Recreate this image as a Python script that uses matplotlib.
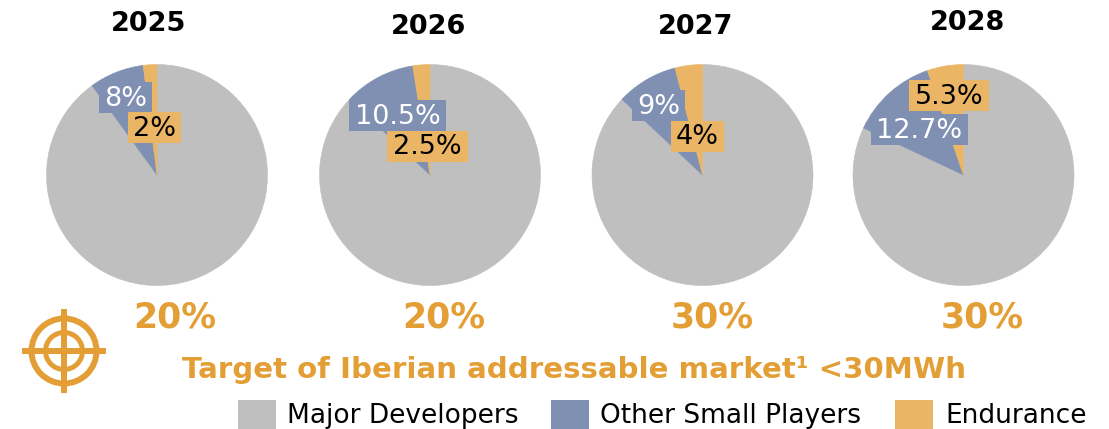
# -*- coding: utf-8 -*-
"""Market share pies 2025-2028 with the Iberian addressable market target."""
import matplotlib; matplotlib.use("Agg")
import matplotlib.pyplot as plt
from matplotlib.patches import Circle, Rectangle

years = ["2025", "2026", "2027", "2028"]
major = [90, 87, 87, 82]
small = [8, 10.5, 9, 12.7]
endurance = [2, 2.5, 4, 5.3]
targets = ["20%", "20%", "30%", "30%"]
series = ["Major Developers", "Other Small Players", "Endurance"]

GREY, BLUE, ORANGE, GOLD = "#BFBFBF", "#7F90B3", "#EAB665", "#E39F35"
W, H = 1109, 429

fig = plt.figure(figsize=(W/100, H/100), dpi=100)
canvas = fig.add_axes([0, 0, 1, 1], zorder=2)
canvas.set_xlim(0, W); canvas.set_ylim(H, 0); canvas.axis("off")

centers = [157, 430, 702.5, 963.5]
year_xy = [(149, 24), (429, 27), (696, 27), (967, 23)]
small_xy = [(125.5, 97), (397.5, 115), (658.5, 105), (919.5, 129)]
end_xy = [(154.5, 127), (427.5, 146), (697.5, 136), (949, 95.5)]
small_w = [53, 97, 53, 97]
end_w = [53, 81, 53, 80]
target_x = [175, 444, 712, 982]
R, CY = 110.5, 175


def label(xy, width, txt, fc, color):
    # fixed size box behind each data label
    canvas.add_patch(Rectangle((xy[0]-width/2, xy[1]-15.5), width, 31, fc=fc, ec="none"))
    canvas.text(xy[0], xy[1]+1.5, txt, ha="center", va="center", fontsize=19.5, color=color)


for i, cx in enumerate(centers):
    ax = fig.add_axes([(cx-R)/W, 1-(CY+R)/H, 2*R/W, 2*R/H], zorder=1)
    wedges, _ = ax.pie([major[i], small[i], endurance[i]], colors=[GREY, BLUE, ORANGE],
                       startangle=90, counterclock=False, radius=1)
    for w in wedges:  # hide antialias seams between slices
        w.set_edgecolor(w.get_facecolor()); w.set_linewidth(0.4)
    ax.set_xlim(-1, 1); ax.set_ylim(-1, 1)

    canvas.text(*year_xy[i], years[i], ha="center", va="center",
                fontsize=19.5, fontweight="bold", color="black")
    label(small_xy[i], small_w[i], f"{small[i]:g}%", BLUE, "white")
    label(end_xy[i], end_w[i], f"{endurance[i]:g}%", ORANGE, "black")
    canvas.text(target_x[i], 318, targets[i], ha="center", va="center",
                fontsize=25, fontweight="bold", color=GOLD)

canvas.text(573.5, 370, "Target of Iberian addressable market¹ <30MWh", ha="center", va="center",
            fontsize=21.1, fontweight="bold", color=GOLD)

# crosshair icon
for r, lw in [(32.5, 4.3), (18.5, 3.6)]:
    canvas.add_patch(Circle((64, 351), r, fc="none", ec=GOLD, lw=lw))
canvas.add_patch(Rectangle((22, 348), 84, 6, fc=GOLD, ec="none"))
canvas.add_patch(Rectangle((61, 309), 6, 84, fc=GOLD, ec="none"))

# legend
for x, tx, name, col in zip([238, 551, 895], [287, 600, 945], series, [GREY, BLUE, ORANGE]):
    canvas.add_patch(Rectangle((x, 400), 38, 29, fc=col, ec="none"))
    canvas.text(tx, 416, name, ha="left", va="center", fontsize=19, color="black")

fig.savefig("out.png", dpi=100)
